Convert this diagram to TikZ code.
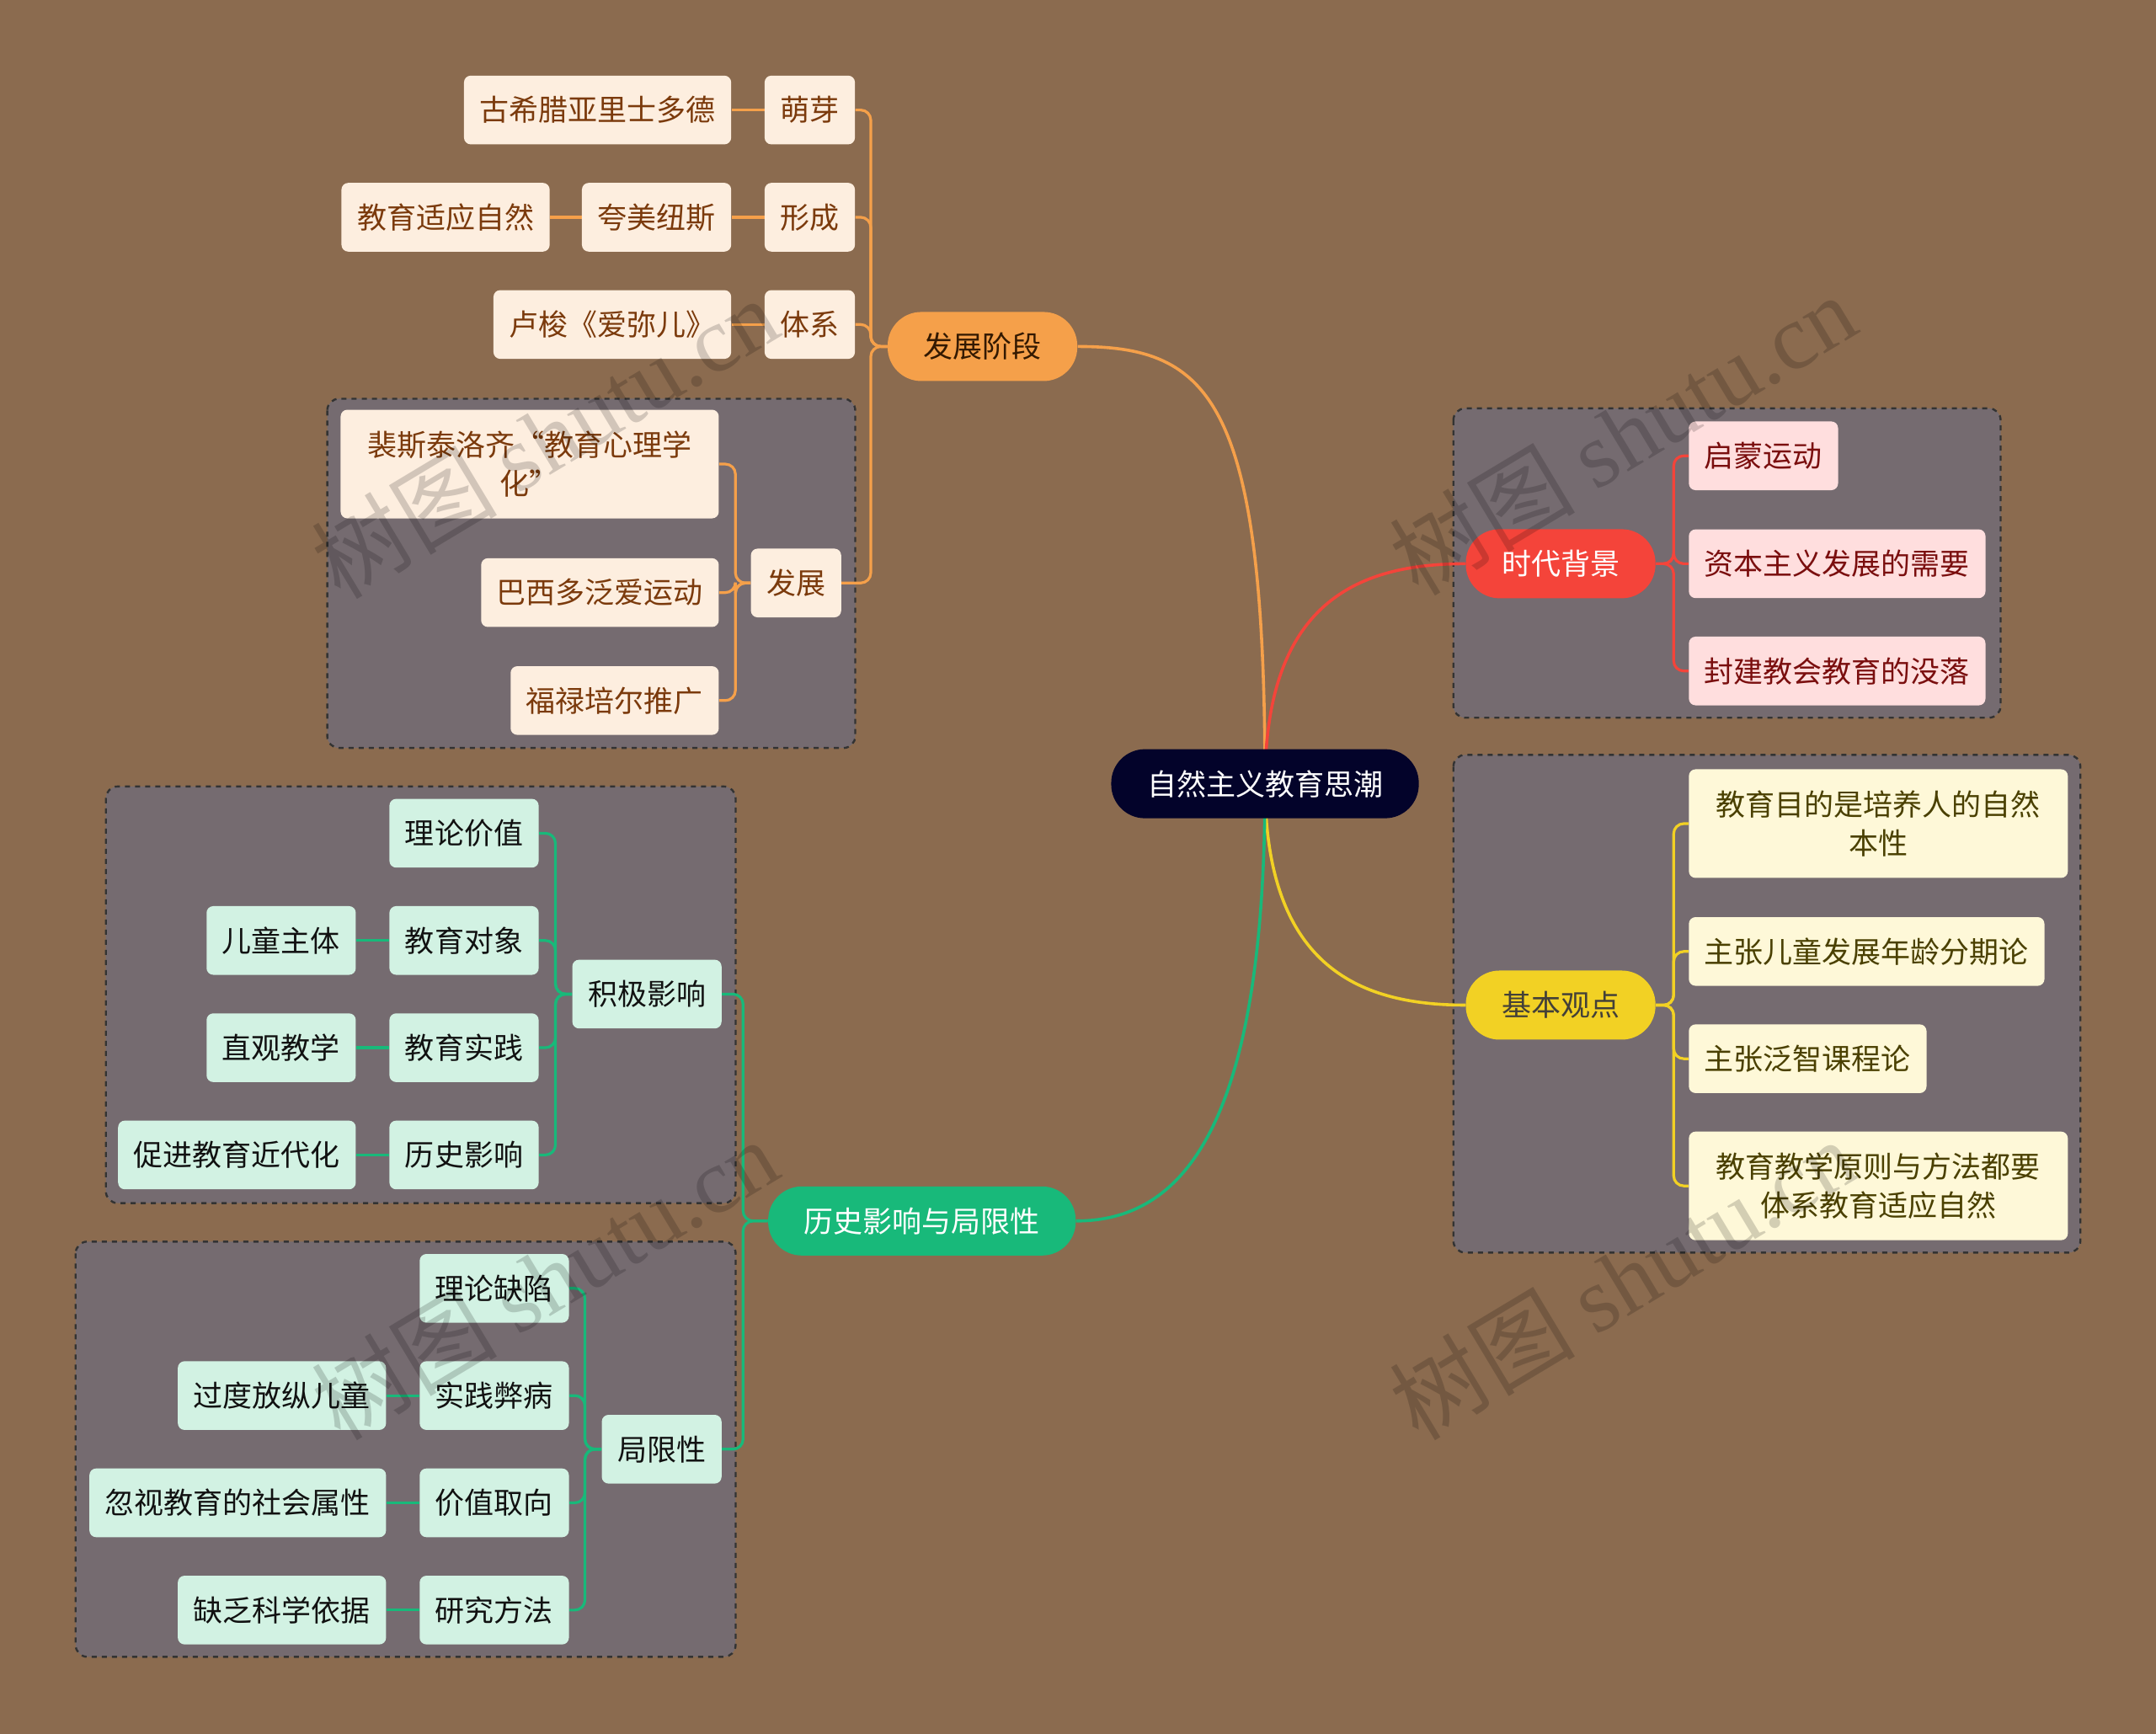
\documentclass[tikz,border=0pt]{standalone}
\usepackage{fontspec}
\setmainfont{Noto Sans CJK SC}
\newfontfamily\wmlatin{Liberation Serif}
\usetikzlibrary{calc}
\definecolor{bgc}{HTML}{8B6B4F}
\definecolor{grpc}{HTML}{756B70}
\definecolor{grpline}{HTML}{333333}
\definecolor{navyc}{HTML}{03032A}
\definecolor{orangec}{HTML}{F5A04A}
\definecolor{redc}{HTML}{F4443A}
\definecolor{yellowc}{HTML}{F2D124}
\definecolor{greenc}{HTML}{18B97A}
\definecolor{peachc}{HTML}{FDEEDF}
\definecolor{peacht}{HTML}{7B3A0C}
\definecolor{pinkc}{HTML}{FFDEDE}
\definecolor{pinkt}{HTML}{7A0E0E}
\definecolor{creamc}{HTML}{FEF8D8}
\definecolor{creamt}{HTML}{4A4000}
\definecolor{mintc}{HTML}{D2F2E3}
\definecolor{mintt}{HTML}{111111}
\pgfdeclarelayer{background}
\pgfsetlayers{background,main}
\begin{document}
\begin{tikzpicture}[x=0.8163pt,y=-0.8163pt,
  txt/.style={font=\fontsize{17.5pt}{23pt}\selectfont, align=center},
  leaf/.style={txt, rectangle, rounded corners=4pt, minimum height=40.8pt, inner xsep=9.3pt, inner ysep=2pt},
  peach/.style={leaf, fill=peachc, text=peacht},
  pinkbox/.style={leaf, fill=pinkc, text=pinkt},
  cream/.style={leaf, fill=creamc, text=creamt},
  mint/.style={leaf, fill=mintc, text=mintt},
  twoline/.style={minimum width=225pt, minimum height=64.5pt},
  pill/.style={txt, rectangle, rounded corners=20pt, minimum height=41pt, inner xsep=21.3pt},
  grp/.style={draw=grpline, fill=grpc, dashed, line width=1.2pt, rounded corners=7pt},
  orangeln/.style={draw=orangec, line width=1.6pt, rounded corners=6pt},
  redln/.style={draw=redc, line width=1.6pt, rounded corners=6pt},
  yellowln/.style={draw=yellowc, line width=1.6pt, rounded corners=6pt},
  greenln/.style={draw=greenc, line width=1.6pt, rounded corners=6pt},
  wm/.style={text=black, opacity=0.17, rotate=31, font=\fontsize{55pt}{55pt}\selectfont}
]
\begin{pgfonlayer}{background}
\fill[bgc] (0,0) rectangle (1568,1261);
\path[grp] (238,290) rectangle (622,544);
\path[grp] (1057,297) rectangle (1455,522);
\path[grp] (1057,549) rectangle (1513,911);
\path[grp] (77,572) rectangle (535,875);
\path[grp] (55,903) rectangle (535,1205);
\end{pgfonlayer}
\useasboundingbox (0,0) rectangle (1568,1261);

% root
\node[pill, fill=navyc, text=white] (root) at (920,570) {自然主义教育思潮};

% development stages
\node[pill, fill=orangec, text=black!80!orange] (fz) at (714.5,252) {发展阶段};
\node[peach, anchor=east] (my) at (622,80) {萌芽};
\node[peach, anchor=east] (gxl) at (532,80) {古希腊亚里士多德};
\node[peach, anchor=east] (xc) at (622,158) {形成};
\node[peach, anchor=east] (kmns) at (532,158) {夸美纽斯};
\node[peach, anchor=east] (jysy) at (400,158) {教育适应自然};
\node[peach, anchor=east] (tx) at (622,236) {体系};
\node[peach, anchor=east] (ls) at (532,236) {卢梭《爱弥儿》};
\node[peach, anchor=east] (fzn) at (612,424) {发展};
\node[peach, twoline, minimum width=224.5pt, anchor=east] (psl) at (523,337.5) {裴斯泰洛齐“教育心理学\\化”};
\node[peach, anchor=east] (bxd) at (523,431) {巴西多泛爱运动};
\node[peach, anchor=east] (flp) at (523,509.5) {福禄培尔推广};

% background
\node[pill, fill=redc, text=white] (sd) at (1135,410) {时代背景};
\node[pinkbox, anchor=west] (qm) at (1228,331.5) {启蒙运动};
\node[pinkbox, anchor=west] (zb) at (1228,410) {资本主义发展的需要};
\node[pinkbox, anchor=west] (fj) at (1228,488) {封建教会教育的没落};

% basic views
\node[pill, fill=yellowc, text=black!85!yellow] (jb) at (1135,731) {基本观点};
\node[cream, twoline, anchor=west] (md) at (1228,599) {教育目的是培养人的自然\\本性};
\node[cream, anchor=west] (nl) at (1228,692) {主张儿童发展年龄分期论};
\node[cream, anchor=west] (fzk) at (1228,770) {主张泛智课程论};
\node[cream, twoline, anchor=west] (yz) at (1228,862.5) {教育教学原则与方法都要\\体系教育适应自然};

% influence and limits
\node[pill, fill=greenc, text=white] (hx) at (670.5,888) {历史影响与局限性};
\node[mint, anchor=east] (jj) at (525,723) {积极影响};
\node[mint, anchor=east] (lljz) at (392,606) {理论价值};
\node[mint, anchor=east] (jydx) at (392,684) {教育对象};
\node[mint, anchor=east] (etzt) at (259,684) {儿童主体};
\node[mint, anchor=east] (jysj) at (392,762) {教育实践};
\node[mint, anchor=east] (zgjx) at (259,762) {直观教学};
\node[mint, anchor=east] (lsyx) at (392,840) {历史影响};
\node[mint, anchor=east] (cjjy) at (259,840) {促进教育近代化};
\node[mint, anchor=east] (jxx) at (525,1054) {局限性};
\node[mint, anchor=east] (llqx) at (414,937) {理论缺陷};
\node[mint, anchor=east] (sjbb) at (414,1015) {实践弊病};
\node[mint, anchor=east] (gdfz) at (281,1015) {过度放纵儿童};
\node[mint, anchor=east] (jzqx) at (414,1093) {价值取向};
\node[mint, anchor=east] (hsjy) at (281,1093) {忽视教育的社会属性};
\node[mint, anchor=east] (yjff) at (414,1171) {研究方法};
\node[mint, anchor=east] (qfkx) at (281,1171) {缺乏科学依据};

% watermarks
\node[wm] (wm1) at (396,318) {树图 {\wmlatin shutu.cn}};
\node[wm] (wm2) at (1180,316) {树图 {\wmlatin shutu.cn}};
\node[wm] (wm3) at (396,930) {树图 {\wmlatin shutu.cn}};
\node[wm] (wm4) at (1180,930) {树图 {\wmlatin shutu.cn}};

\begin{pgfonlayer}{background}
% main branches
\draw[orangec, line width=1.8pt] (root.center) .. controls (920,290) and (880,252) .. (fz.east);
\draw[redc, line width=1.8pt] (root.center) .. controls (920,440) and (985,410) .. (sd.west);
\draw[yellowc, line width=1.8pt] (root.center) .. controls (920,700) and (985,731) .. (jb.west);
\draw[greenc, line width=1.8pt] (root.center) .. controls (920,820) and (860,888) .. (hx.east);
% orange
\foreach \c in {my,xc,tx,fzn} \draw[orangeln] (fz.west) -- ++(-12,0) |- (\c.east);
\foreach \c in {psl,bxd,flp} \draw[orangeln] (fzn.west) -- ++(-11,0) |- (\c.east);
\draw[orangeln] (my.west) -- (gxl.east);
\draw[orangeln] (xc.west) -- (kmns.east);
\draw[orangeln] (kmns.west) -- (jysy.east);
\draw[orangeln] (tx.west) -- (ls.east);
% red
\foreach \c in {qm,zb,fj} \draw[redln] (sd.east) -- ++(13,0) |- (\c.west);
% yellow
\foreach \c in {md,nl,fzk,yz} \draw[yellowln] (jb.east) -- ++(13,0) |- (\c.west);
% green
\foreach \c in {jj,jxx} \draw[greenln] (hx.west) -- ++(-18,0) |- (\c.east);
\foreach \c in {lljz,jydx,jysj,lsyx} \draw[greenln] (jj.west) -- ++(-12,0) |- (\c.east);
\foreach \c in {llqx,sjbb,jzqx,yjff} \draw[greenln] (jxx.west) -- ++(-12,0) |- (\c.east);
\draw[greenln] (jydx.west) -- (etzt.east);
\draw[greenln] (jysj.west) -- (zgjx.east);
\draw[greenln] (lsyx.west) -- (cjjy.east);
\draw[greenln] (sjbb.west) -- (gdfz.east);
\draw[greenln] (jzqx.west) -- (hsjy.east);
\draw[greenln] (yjff.west) -- (qfkx.east);
\end{pgfonlayer}
\end{tikzpicture}
\end{document}
